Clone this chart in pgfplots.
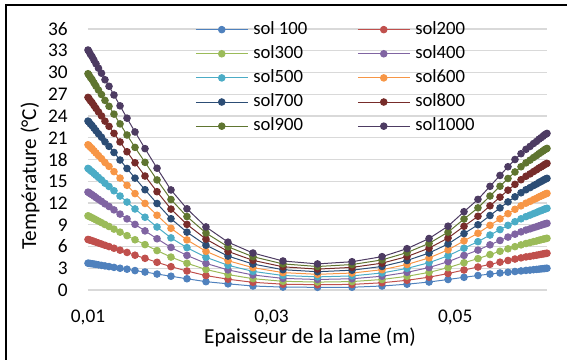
\documentclass[border=0pt]{standalone}
\usepackage{pgfplots}
\usepackage{pgfplotstable}
\usepackage{fontspec}
\setmainfont{Carlito}
\pgfplotsset{compat=1.18}
\definecolor{c1}{HTML}{4F81BD}
\definecolor{c2}{HTML}{C0504D}
\definecolor{c3}{HTML}{9BBB59}
\definecolor{c4}{HTML}{8064A2}
\definecolor{c5}{HTML}{4BACC6}
\definecolor{c6}{HTML}{F79646}
\definecolor{c7}{HTML}{2C4D75}
\definecolor{c8}{HTML}{772C2A}
\definecolor{c9}{HTML}{5F7530}
\definecolor{c10}{HTML}{4D3B62}
\definecolor{gridgray}{HTML}{D9D9D9}
\pgfplotstableread{
x a b c d e f g h i j
0.01000 3.70 6.97 10.23 13.50 16.77 20.03 23.30 26.57 29.83 33.10
0.01011 3.68 6.93 10.17 13.42 16.67 19.92 23.16 26.41 29.65 32.90
0.01027 3.65 6.86 10.06 13.27 16.47 19.68 22.89 26.09 29.30 32.50
0.01044 3.62 6.80 9.97 13.15 16.32 19.50 22.68 25.85 29.03 32.20
0.01065 3.58 6.70 9.83 12.95 16.08 19.20 22.33 25.45 28.58 31.70
0.01087 3.53 6.60 9.68 12.75 15.83 18.90 21.97 25.05 28.12 31.20
0.01114 3.47 6.48 9.50 12.51 15.53 18.54 21.55 24.57 27.58 30.60
0.01147 3.40 6.34 9.29 12.23 15.18 18.12 21.07 24.01 26.96 29.90
0.01185 3.32 6.17 9.03 11.88 14.73 17.59 20.44 23.29 26.15 29.00
0.01229 3.23 5.99 8.76 11.52 14.28 17.05 19.81 22.57 25.34 28.10
0.01283 3.12 5.76 8.40 11.05 13.69 16.33 18.97 21.61 24.26 26.90
0.01349 3.00 5.49 7.98 10.47 12.96 15.44 17.93 20.42 22.91 25.40
0.01425 2.87 5.18 7.50 9.81 12.13 14.44 16.76 19.07 21.38 23.70
0.01512 2.68 4.80 6.93 9.05 11.18 13.30 15.43 17.55 19.67 21.80
0.01621 2.48 4.37 6.26 8.15 10.04 11.94 13.83 15.72 17.61 19.50
0.01752 2.20 3.82 5.44 7.07 8.69 10.31 11.93 13.56 15.18 16.80
0.01904 1.90 3.22 4.54 5.87 7.19 8.51 9.83 11.16 12.48 13.80
0.02078 1.55 2.62 3.69 4.77 5.84 6.91 7.98 9.05 10.13 11.20
0.02285 1.15 1.99 2.83 3.67 4.51 5.34 6.18 7.02 7.86 8.70
0.02525 0.85 1.49 2.13 2.77 3.41 4.04 4.68 5.32 5.96 6.60
0.02797 0.55 1.06 1.56 2.07 2.57 3.08 3.58 4.09 4.59 5.10
0.03124 0.40 0.80 1.20 1.60 2.00 2.40 2.80 3.20 3.60 4.00
0.03500 0.37 0.73 1.09 1.45 1.81 2.16 2.52 2.88 3.24 3.60
0.03876 0.38 0.77 1.16 1.55 1.94 2.34 2.73 3.12 3.51 3.90
0.04203 0.55 1.00 1.45 1.90 2.35 2.80 3.25 3.70 4.15 4.60
0.04475 0.80 1.34 1.89 2.43 2.98 3.52 4.07 4.61 5.16 5.70
0.04715 1.10 1.77 2.43 3.10 3.77 4.43 5.10 5.77 6.43 7.10
0.04922 1.45 2.27 3.08 3.90 4.72 5.53 6.35 7.17 7.98 8.80
0.05096 1.75 2.76 3.76 4.77 5.77 6.78 7.78 8.79 9.79 10.80
0.05248 2.00 3.17 4.33 5.50 6.67 7.83 9.00 10.17 11.33 12.50
0.05379 2.20 3.54 4.89 6.23 7.58 8.92 10.27 11.61 12.96 14.30
0.05488 2.35 3.84 5.34 6.83 8.33 9.82 11.32 12.81 14.31 15.80
0.05575 2.45 4.07 5.68 7.30 8.92 10.53 12.15 13.77 15.38 17.00
0.05651 2.55 4.27 5.98 7.70 9.42 11.13 12.85 14.57 16.28 18.00
0.05717 2.63 4.43 6.22 8.02 9.82 11.61 13.41 15.21 17.00 18.80
0.05771 2.70 4.56 6.41 8.27 10.12 11.98 13.83 15.69 17.54 19.40
0.05815 2.75 4.64 6.54 8.43 10.33 12.22 14.12 16.01 17.91 19.80
0.05853 2.80 4.73 6.67 8.60 10.53 12.47 14.40 16.33 18.27 20.20
0.05886 2.84 4.80 6.76 8.73 10.69 12.65 14.61 16.58 18.54 20.50
0.05913 2.88 4.87 6.86 8.85 10.85 12.84 14.83 16.82 18.81 20.80
0.05935 2.91 4.92 6.93 8.94 10.95 12.96 14.97 16.98 18.99 21.00
0.05956 2.94 4.97 7.00 9.03 11.06 13.08 15.11 17.14 19.17 21.20
0.05973 2.96 5.01 7.06 9.11 11.16 13.20 15.25 17.30 19.35 21.40
0.05989 2.98 5.04 7.10 9.15 11.21 13.27 15.33 17.39 19.44 21.50
0.06000 3.00 5.07 7.13 9.20 11.27 13.33 15.40 17.47 19.53 21.60
}\datatable
\begin{document}
\begin{tikzpicture}
\useasboundingbox (0,0) rectangle (425.25pt,270pt);
\begin{axis}[
  at={(66pt,52.5pt)}, anchor=south west,
  scale only axis, width=344.25pt, height=195.75pt,
  xmin=0.01, xmax=0.06, ymin=0, ymax=36,
  xtick={0.01,0.03,0.05}, ytick={0,3,...,36},
  scaled x ticks=false,
  axis line style={draw=none}, tick style={draw=none},
  ymajorgrids, grid style={gridgray, line width=0.9pt},
  clip=false,
  /pgf/number format/assume math mode=true,
  x tick label style={/pgf/number format/fixed, /pgf/number format/fixed zerofill, /pgf/number format/precision=2, /pgf/number format/use comma},
  x tick label style={/tikz/inner sep=0pt, /tikz/anchor=north, /tikz/yshift=-15pt, /tikz/font=\fontsize{14.5}{17}\selectfont},
  y tick label style={/tikz/inner sep=0pt, /tikz/anchor=east, /tikz/xshift=-15pt, /tikz/font=\fontsize{14.5}{17}\selectfont},
  xlabel={Epaisseur de la lame (m)},
  ylabel={Température (°C)},
  xlabel style={at={(axis description cs:0.4837,-0.2031)}, anchor=base, inner sep=0pt, font=\fontsize{16}{19}\selectfont},
  ylabel style={at={(axis description cs:-0.1264,0.4368)}, anchor=center, inner sep=0pt, font=\fontsize{16}{19}\selectfont},
  legend columns=2,
  legend cell align=left,
  legend style={draw=none, fill=none, at={(axis description cs:0.2244,1.042)}, anchor=north west,
    font=\fontsize{14}{16}\selectfont,
    nodes={inner sep=0pt, text height=10pt, text depth=3pt},
    row sep=5.1pt,
    /tikz/every odd column/.append style={column sep=3.75pt},
    /tikz/every even column/.append style={column sep=8pt}},
  legend image code/.code={\draw[mark repeat=2,mark phase=2,#1] plot coordinates {(0pt,0pt) (19.5pt,0pt) (39pt,0pt)};},
  every axis plot/.append style={line width=0.75pt, mark=*, mark size=2.45pt},
]
\addplot[c1, mark options={fill=c1, draw=c1}] table[x=x,y=a] {\datatable};
\addlegendentry{\makebox[70pt][l]{sol 100}}
\addplot[c2, mark options={fill=c2, draw=c2}] table[x=x,y=b] {\datatable};
\addlegendentry{sol200}
\addplot[c3, mark options={fill=c3, draw=c3}] table[x=x,y=c] {\datatable};
\addlegendentry{\makebox[70pt][l]{sol300}}
\addplot[c4, mark options={fill=c4, draw=c4}] table[x=x,y=d] {\datatable};
\addlegendentry{sol400}
\addplot[c5, mark options={fill=c5, draw=c5}] table[x=x,y=e] {\datatable};
\addlegendentry{\makebox[70pt][l]{sol500}}
\addplot[c6, mark options={fill=c6, draw=c6}] table[x=x,y=f] {\datatable};
\addlegendentry{sol600}
\addplot[c7, mark options={fill=c7, draw=c7}] table[x=x,y=g] {\datatable};
\addlegendentry{\makebox[70pt][l]{sol700}}
\addplot[c8, mark options={fill=c8, draw=c8}] table[x=x,y=h] {\datatable};
\addlegendentry{sol800}
\addplot[c9, mark options={fill=c9, draw=c9}] table[x=x,y=i] {\datatable};
\addlegendentry{\makebox[70pt][l]{sol900}}
\addplot[c10, mark options={fill=c10, draw=c10}] table[x=x,y=j] {\datatable};
\addlegendentry{sol1000}
\end{axis}
\draw[line width=1.1pt] (4.5pt,0pt) -- (4.5pt,266.25pt) -- (425.25pt,266.25pt);
\end{tikzpicture}
\end{document}
